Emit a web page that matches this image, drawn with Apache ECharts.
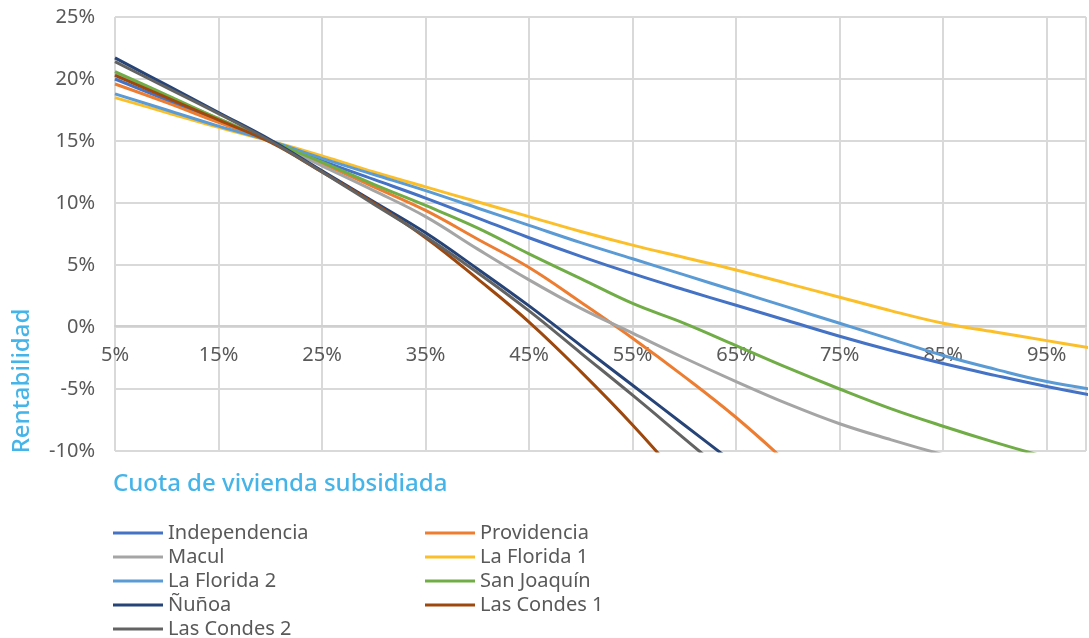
<!DOCTYPE html>
<html>
<head>
<meta charset="utf-8">
<script src="https://cdn.jsdelivr.net/npm/echarts@6/dist/echarts.min.js"></script>
<style>
  html, body { margin: 0; padding: 0; background: #ffffff; }
  #chart { width: 1089px; height: 638px; }
</style>
</head>
<body>
<div id="chart"></div>
<script>
// Share of subsidised housing (%), sampled every 5 points
const cuota = [5, 10, 15, 20, 25, 30, 35, 40, 45, 50, 55, 60, 65, 70, 75, 80, 85, 90, 95, 100];

// Return (%) per project
const independencia = [20.0, 18.3, 16.6, 15.0, 13.4, 11.9, 10.4, 8.8, 7.2, 5.7, 4.3, 3.0, 1.75, 0.5, -0.75, -1.9, -2.95, -3.9, -4.8, -5.6];
const providencia   = [19.6, 18.1, 16.5, 15.0, 13.2, 11.3, 9.4, 7.1, 4.8, 2.0, -0.9, -4.0, -7.3, -11.0];
const macul         = [20.4, 18.6, 16.8, 15.0, 13.0, 11.0, 8.9, 6.3, 3.8, 1.5, -0.5, -2.5, -4.4, -6.2, -7.8, -9.1, -10.3, -11.4];
const laFlorida1    = [18.5, 17.3, 16.1, 15.0, 13.8, 12.5, 11.3, 10.1, 8.9, 7.7, 6.6, 5.6, 4.6, 3.5, 2.4, 1.3, 0.3, -0.4, -1.1, -1.8];
const laFlorida2    = [18.8, 17.5, 16.2, 15.0, 13.6, 12.3, 11.0, 9.6, 8.2, 6.8, 5.5, 4.2, 2.9, 1.6, 0.3, -1.0, -2.3, -3.4, -4.4, -5.1];
const sanJoaquin    = [20.6, 18.7, 16.8, 15.0, 13.3, 11.5, 9.8, 8.0, 5.9, 3.9, 1.9, 0.3, -1.5, -3.3, -5.0, -6.6, -8.0, -9.3, -10.5, -11.6];
const nunoa         = [21.7, 19.5, 17.3, 15.1, 12.6, 10.1, 7.6, 4.7, 1.7, -1.5, -4.7, -7.9, -11.1];
const lasCondes1    = [20.3, 18.5, 16.7, 14.9, 12.5, 10.0, 7.2, 3.9, 0.4, -3.6, -7.9, -12.6];
const lasCondes2    = [21.4, 19.3, 17.2, 15.0, 12.5, 9.9, 7.3, 4.4, 1.3, -2.1, -5.5, -9.0, -12.5];

const seriesDefs = [
  { name: 'Independencia', data: independencia, color: '#4472C4' },
  { name: 'Providencia',   data: providencia,   color: '#ED7D31' },
  { name: 'Macul',         data: macul,         color: '#A5A5A5' },
  { name: 'La Florida 1',  data: laFlorida1,    color: '#FBBF2A' },
  { name: 'La Florida 2',  data: laFlorida2,    color: '#5B9BD5' },
  { name: 'San Joaquín',   data: sanJoaquin,    color: '#70AD47' },
  { name: 'Ñuñoa',         data: nunoa,         color: '#264478' },
  { name: 'Las Condes 1',  data: lasCondes1,    color: '#9E480E' },
  { name: 'Las Condes 2',  data: lasCondes2,    color: '#636363' }
];

const leftColumn  = ['Independencia', 'Macul', 'La Florida 2', 'Ñuñoa', 'Las Condes 2'];
const rightColumn = ['Providencia', 'La Florida 1', 'San Joaquín', 'Las Condes 1'];

const FONT = '"Noto Sans", "Open Sans", sans-serif';
const TEXT_GREY = '#595959';
const TITLE_BLUE = '#45b4e8';
const GRID_GREY = '#d9d9d9';

const legendBase = {
  orient: 'vertical',
  top: 523,
  height: 140,
  padding: 0,
  icon: 'rect',
  itemWidth: 50,
  itemHeight: 3,
  itemGap: 4,
  textStyle: { fontFamily: FONT, fontSize: 20, color: TEXT_GREY, lineHeight: 18 },
  selectedMode: false
};

const chart = echarts.init(document.getElementById('chart'), null, { renderer: 'canvas' });

chart.setOption({
  animation: false,
  backgroundColor: '#ffffff',
  grid: { left: 115, right: 0, top: 17, bottom: 187, containLabel: false },
  xAxis: {
    type: 'value',
    min: 5,
    max: 98.8,
    interval: 10,
    position: 'bottom',
    offset: -125,
    axisLine: { show: true, onZero: false, lineStyle: { color: '#cfcfcf', width: 2 } },
    axisTick: { show: false },
    axisLabel: {
      margin: 19,
      fontFamily: FONT,
      fontSize: 20,
      color: TEXT_GREY,
      formatter: function (v) { return (Math.round(v) - 5) % 10 === 0 ? v + '%' : ''; }
    },
    splitLine: { show: true, lineStyle: { color: GRID_GREY, width: 2 } }
  },
  yAxis: {
    type: 'value',
    min: -10,
    max: 25,
    interval: 5,
    axisLine: { show: false },
    axisTick: { show: false },
    axisLabel: { margin: 20, fontFamily: FONT, fontSize: 20, color: TEXT_GREY, formatter: '{value}%' },
    splitLine: { show: true, lineStyle: { color: GRID_GREY, width: 2 } }
  },
  legend: [
    Object.assign({}, legendBase, { left: 113, data: leftColumn }),
    Object.assign({}, legendBase, { left: 425, data: rightColumn })
  ],
  graphic: [
    {
      type: 'text',
      x: 22,
      y: 381,
      rotation: Math.PI / 2,
      style: {
        text: 'Rentabilidad',
        fill: TITLE_BLUE,
        font: '500 24px ' + FONT,
        align: 'center',
        verticalAlign: 'middle'
      }
    },
    {
      type: 'text',
      x: 113,
      y: 484,
      style: {
        text: 'Cuota de vivienda subsidiada',
        fill: TITLE_BLUE,
        font: '500 24px ' + FONT,
        align: 'left',
        verticalAlign: 'middle'
      }
    }
  ],
  series: seriesDefs.map(function (s) {
    return {
      name: s.name,
      type: 'line',
      smooth: 0.4,
      symbol: 'none',
      clip: true,
      color: s.color,
      lineStyle: { width: 3, color: s.color },
      data: s.data.map(function (y, i) { return [cuota[i], y]; })
    };
  })
});
</script>
</body>
</html>
